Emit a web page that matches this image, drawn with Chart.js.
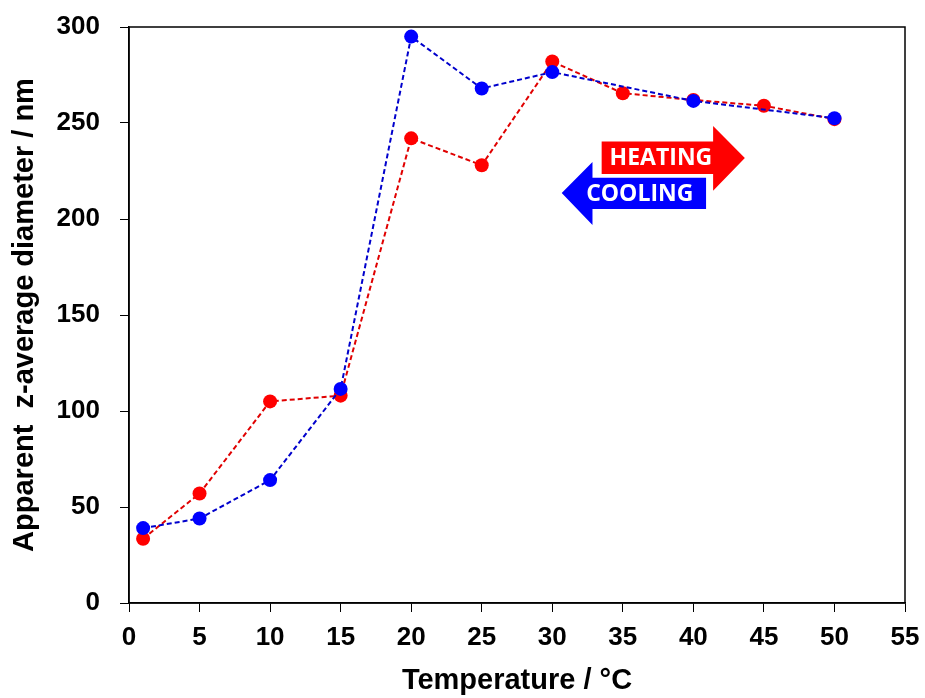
<!DOCTYPE html>
<html>
<head>
<meta charset="utf-8">
<script src="https://cdn.jsdelivr.net/npm/chart.js@4"></script>
<style>
  html, body { margin: 0; padding: 0; background: #fff; }
  #wrap { width: 925px; height: 698px; }
</style>
</head>
<body>
<div id="wrap"><canvas id="chart"></canvas></div>
<script>
// values
const heatingTemp = [1, 5, 10, 15, 20, 25, 30, 35, 40, 45, 50];
const heatingSize = [33.5, 57, 105, 108, 242, 228, 282, 265.5, 262, 259, 252];
const coolingTemp = [1, 5, 10, 15, 20, 25, 30, 40, 50];
const coolingSize = [39, 44, 64, 111.5, 295, 268, 276.5, 261.5, 252.5];

const xTicks = { min: 0, max: 55, step: 5 };
const yTicks = { min: 0, max: 300, step: 50 };

const toPoints = (xs, ys) => xs.map((x, i) => ({ x, y: ys[i] }));

const FONT = '"Liberation Sans", Arial, sans-serif';

// box round the plot
const boxPlugin = {
  id: 'box',
  afterDraw(chart) {
    const { ctx, chartArea: a } = chart;
    ctx.save();
    ctx.strokeStyle = '#000';
    ctx.lineWidth = 1.5;
    ctx.strokeRect(a.left, a.top, a.right - a.left, a.bottom - a.top);
    ctx.restore();
  }
};

// heating / cooling arrows, placed in data units
const arrowPlugin = {
  id: 'arrows',
  afterDatasetsDraw(chart) {
    const { ctx, scales: { x, y } } = chart;
    const X = v => x.getPixelForValue(v);
    const Y = v => y.getPixelForValue(v);

    function arrow(color, tail, base, tip, top, bottom, headTop, headBottom, mid, label, textX) {
      ctx.save();
      ctx.fillStyle = color;
      ctx.beginPath();
      ctx.moveTo(X(tail), Y(top));
      ctx.lineTo(X(base), Y(top));
      ctx.lineTo(X(base), Y(headTop));
      ctx.lineTo(X(tip), Y(mid));
      ctx.lineTo(X(base), Y(headBottom));
      ctx.lineTo(X(base), Y(bottom));
      ctx.lineTo(X(tail), Y(bottom));
      ctx.closePath();
      ctx.fill();
      ctx.fillStyle = '#fff';
      ctx.font = 'bold 23px "Open Sans", sans-serif';
      ctx.textAlign = 'center';
      ctx.textBaseline = 'middle';
      ctx.fillText(label, X(textX), Y((top + bottom) / 2) + 1);
      ctx.restore();
    }

    arrow('#ff0000', 33.5, 41.4, 43.65, 240.3, 223.4, 248.4, 214.7, 231.8, 'HEATING', 37.7);
    arrow('#0000ff', 40.9, 32.85, 30.67, 221.5, 205.2, 229.7, 196.9, 213.5, 'COOLING', 36.2);
  }
};

new Chart(document.getElementById('chart'), {
  type: 'scatter',
  data: {
    datasets: [
      {
        label: 'Heating',
        data: toPoints(heatingTemp, heatingSize),
        showLine: true,
        borderColor: '#e00000',
        backgroundColor: '#ff0000',
        borderWidth: 2,
        borderDash: [5, 3],
        pointRadius: 7,
        pointBorderWidth: 0,
        order: 2
      },
      {
        label: 'Cooling',
        data: toPoints(coolingTemp, coolingSize),
        showLine: true,
        borderColor: '#0000cc',
        backgroundColor: '#0000ff',
        borderWidth: 2,
        borderDash: [5, 3],
        pointRadius: 7,
        pointBorderWidth: 0,
        order: 1
      }
    ]
  },
  options: {
    responsive: true,
    maintainAspectRatio: false,
    animation: false,
    layout: { padding: { top: 27, right: 20, left: 0, bottom: 0 } },
    plugins: { legend: { display: false }, tooltip: { enabled: false } },
    scales: {
      x: {
        type: 'linear',
        min: xTicks.min,
        max: xTicks.max,
        afterFit(scale) {
          scale.height = 95;
          scale.paddingLeft = 0;
          scale.paddingRight = 0;
        },
        ticks: {
          stepSize: xTicks.step,
          color: '#000',
          padding: 10,
          font: { family: FONT, size: 26, weight: 'bold' }
        },
        grid: { drawOnChartArea: false, drawTicks: true, tickLength: 9, color: '#000', lineWidth: 1 },
        border: { display: true, color: '#000', width: 1.5 },
        title: {
          display: true,
          text: 'Temperature / °C',
          color: '#000',
          padding: { top: 6, bottom: 0 },
          font: { family: FONT, size: 29, weight: 'bold' }
        }
      },
      y: {
        min: yTicks.min,
        max: yTicks.max,
        afterFit(scale) {
          scale.width = 129;
          scale.paddingTop = 0;
          scale.paddingBottom = 0;
        },
        ticks: {
          stepSize: yTicks.step,
          color: '#000',
          padding: 20,
          font: { family: FONT, size: 26, weight: 'bold' }
        },
        grid: { drawOnChartArea: false, drawTicks: true, tickLength: 9, color: '#000', lineWidth: 1 },
        border: { display: true, color: '#000', width: 1.5 },
        title: {
          display: true,
          text: 'Apparent  z-average diameter / nm',
          color: '#000',
          padding: { top: 8, bottom: 0 },
          font: { family: FONT, size: 29, weight: 'bold' }
        }
      }
    }
  },
  plugins: [boxPlugin, arrowPlugin]
});
</script>
</body>
</html>
